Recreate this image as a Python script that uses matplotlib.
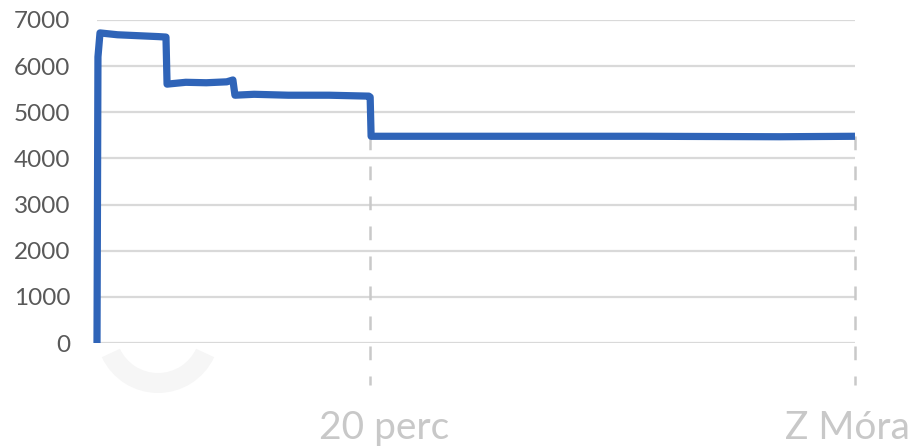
import matplotlib
matplotlib.use("Agg")
import matplotlib.pyplot as plt
from matplotlib.patches import Wedge

# Data (x in minutes, y values)
time_min = [0.0, 0.07, 0.22, 1.5, 3.0, 4.5, 5.05, 5.13, 6.5, 8.0, 9.5, 9.95, 10.1, 11.5,
            14.0, 17.0, 19.9, 20.0, 20.07, 30.0, 40.0, 50.0, 55.5]
values = [0, 6200, 6720, 6680, 6660, 6640, 6630, 5610, 5650, 5640, 5660, 5700, 5370, 5390,
          5370, 5370, 5350, 5330, 4480, 4480, 4480, 4470, 4480]
marker_x = [20.0, 55.5]
marker_top = [4480, 4480]
marker_labels = ["20 perc", "Z Móra"]
y_ticks = [0, 1000, 2000, 3000, 4000, 5000, 6000, 7000]

plt.rcParams["font.family"] = ["Lato", "DejaVu Sans"]

fig = plt.figure(figsize=(9.10, 4.47), dpi=100)
W, H = 910, 447
ax = fig.add_axes([97 / W, 1 - 343 / H, (855 - 97) / W, (343 - 20) / H])

ax.set_xlim(0, 55.5)
ax.set_ylim(0, 7000)
ax.set_yticks(y_ticks)
ax.set_yticklabels([str(t) for t in y_ticks])
ax.set_xticks([])
for s in ax.spines.values():
    s.set_visible(False)
ax.grid(axis="y", color="#d9d9d9", linewidth=1.6)
ax.set_axisbelow(True)
ax.tick_params(axis="y", length=0, pad=19, labelsize=17.5, labelcolor="#595959")

# faint watermark arc
wedge = Wedge((1.58, (H - 331) / 100), 0.62, 205, 335, width=0.2,
              transform=fig.dpi_scale_trans, facecolor="#f6f6f6", edgecolor="none", zorder=0)
fig.patches.append(wedge)

# dashed drop lines
for xm, yt in zip(marker_x, marker_top):
    ax.plot([xm, xm], [yt, -920], color="#c9c9c9", linewidth=1.8,
            linestyle=(0, (5.5, 6.5)), clip_on=False, zorder=1)

ax.plot(time_min, values, color="#2f64b8", linewidth=5.2, solid_joinstyle="round",
        solid_capstyle="butt", clip_on=False, zorder=3)

# category labels
label_offsets = [14 / 13.65, -8 / 13.65]
for xm, lab, off in zip(marker_x, marker_labels, label_offsets):
    ax.text(xm + off, -1850, lab, ha="center", va="center", fontsize=28,
            color="#c8c8c8", clip_on=False)

fig.savefig("out.png", dpi=100)
